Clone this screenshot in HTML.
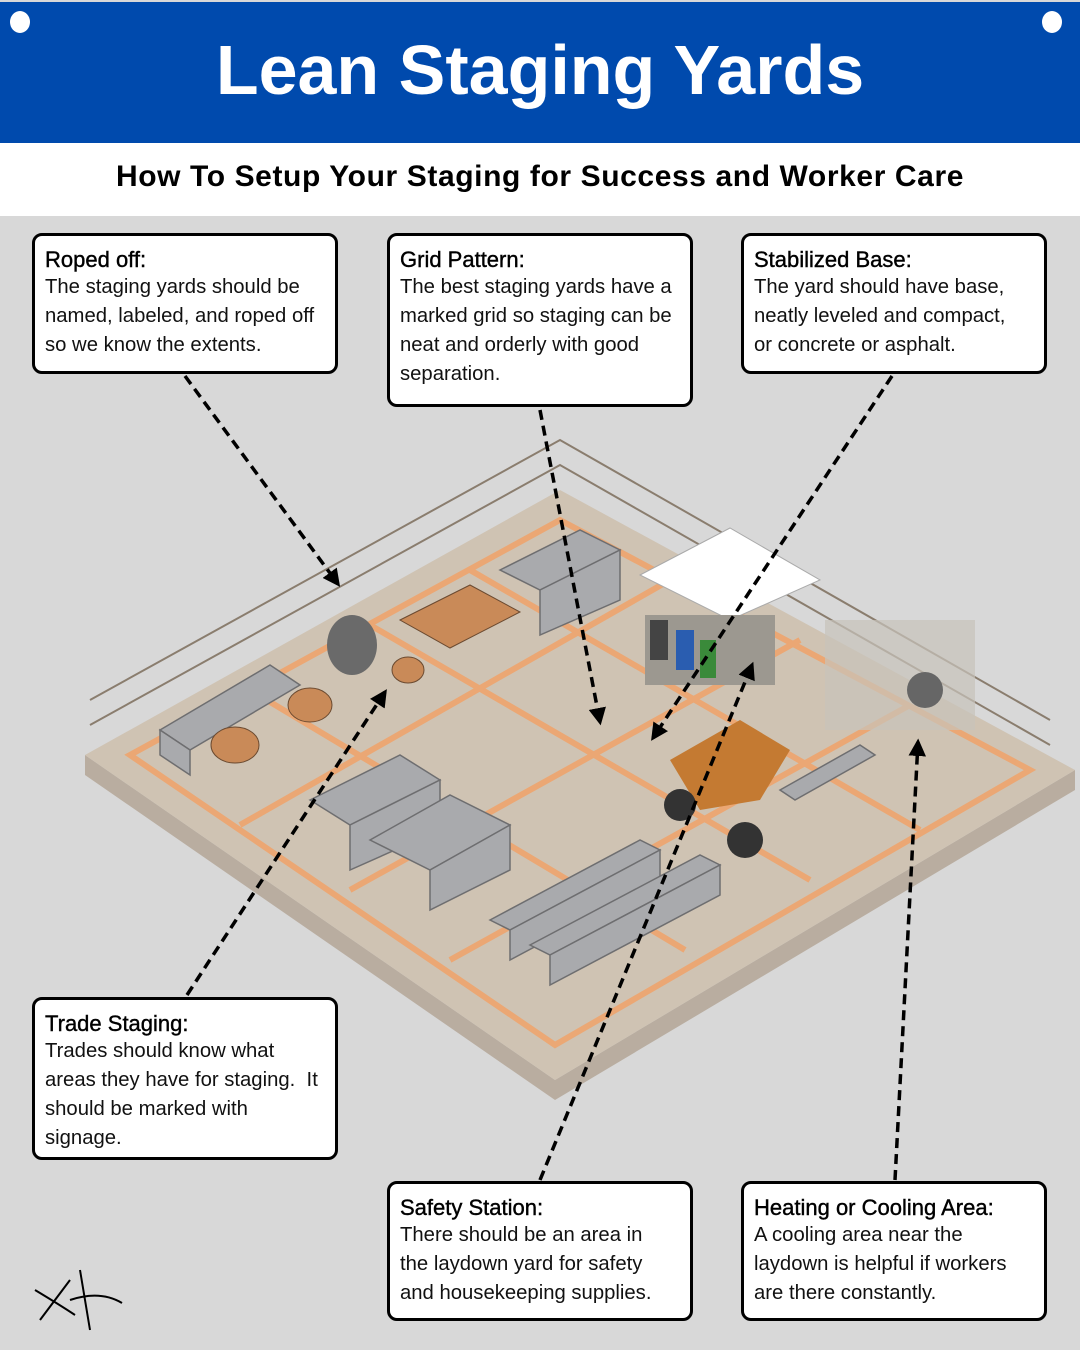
<!DOCTYPE html>
<html><head><meta charset="utf-8"><style>
*{margin:0;padding:0;box-sizing:border-box}
body{width:1080px;height:1350px;position:relative;background:#d8d8d8;font-family:"Liberation Sans",sans-serif;overflow:hidden}
.hdr{position:absolute;left:0;top:2px;width:1080px;height:141px;background:#004aad}
.hdr h1{position:absolute;left:0;width:1080px;top:28px;text-align:center;color:#fff;font-size:70px;font-weight:bold;letter-spacing:0px}
.dot{position:absolute;width:20px;height:22px;border-radius:50%;background:#fff;top:11px}
.sub{position:absolute;left:0;top:143px;width:1080px;height:73px;background:#fff;text-align:center;font-weight:bold;font-size:30px;letter-spacing:0.6px;line-height:68px;color:#000}
.box{position:absolute;background:#fff;border:3px solid #000;border-radius:10px;padding:11px 8px 0 10px;font-size:20.3px;line-height:29px;color:#111;white-space:nowrap;overflow:hidden}
.box b{display:block;font-weight:normal;color:#000;font-size:22px;line-height:26px;-webkit-text-stroke:0.4px #000}
svg{position:absolute;left:0;top:0}
</style></head><body>
<svg width="1080" height="1350">
<defs><marker id="a" viewBox="0 0 10 10" refX="8" refY="5" markerWidth="5" markerHeight="5" orient="auto"><path d="M0,0L10,5L0,10z" fill="#000"/></marker></defs>
<polygon points="85,755 555,1080 1075,770 1075,790 555,1100 85,775" fill="#b9ada0"/>
<polygon points="85,755 560,490 1075,770 555,1080" fill="#cfc3b3"/>
<g stroke="#f0a36a" stroke-width="6" fill="none" opacity="0.85">
<polygon points="130,755 560,520 1030,770 555,1045"/>
<line x1="250" y1="690" x2="685" y2="950"/>
<line x1="370" y1="625" x2="810" y2="880"/>
<line x1="470" y1="570" x2="920" y2="830"/>
<line x1="240" y1="825" x2="670" y2="580"/>
<line x1="350" y1="890" x2="800" y2="640"/>
<line x1="450" y1="960" x2="910" y2="705"/>
</g>
<g stroke="#8a7d6e" stroke-width="2" fill="none">
<polyline points="90,700 560,440 1050,720"/><polyline points="90,725 560,465 1050,745"/>
</g>
<g fill="#a9aaad" stroke="#6e6e70" stroke-width="1.5">
<polygon points="160,730 270,665 300,685 190,750"/><polygon points="160,730 190,750 190,775 160,755"/>
<polygon points="310,800 400,755 440,780 350,825"/><polygon points="350,825 440,780 440,830 350,870"/>
<polygon points="370,840 450,795 510,825 430,870"/><polygon points="430,870 510,825 510,870 430,910"/>
<polygon points="490,920 640,840 660,850 510,930"/><polygon points="510,930 660,850 660,880 510,960"/>
<polygon points="530,945 700,855 720,865 550,955"/><polygon points="550,955 720,865 720,895 550,985"/>
<polygon points="500,570 580,530 620,550 540,590"/><polygon points="540,590 620,550 620,600 540,635"/>
<polygon points="780,790 860,745 875,755 795,800"/>
</g>
<g fill="#c98a58" stroke="#6b4a30">
<ellipse cx="235" cy="745" rx="24" ry="18"/><ellipse cx="310" cy="705" rx="22" ry="17"/><ellipse cx="408" cy="670" rx="16" ry="13"/>
<polygon points="400,620 470,585 520,612 450,648"/>
</g>
<ellipse cx="352" cy="645" rx="25" ry="30" fill="#6a6a6a"/>
<polygon points="640,575 730,528 820,580 730,620" fill="#fff" stroke="#aaa"/>
<rect x="645" y="615" width="130" height="70" fill="#9c9890"/>
<rect x="650" y="620" width="18" height="40" fill="#444"/><rect x="676" y="630" width="18" height="40" fill="#2a5db0"/><rect x="700" y="640" width="16" height="38" fill="#3a8a3a"/>
<polygon points="670,760 740,720 790,750 760,800 700,810" fill="#c47a32"/>
<circle cx="680" cy="805" r="16" fill="#333"/><circle cx="745" cy="840" r="18" fill="#333"/>
<rect x="825" y="620" width="150" height="110" fill="#c8c3bb" opacity="0.7"/>
<circle cx="925" cy="690" r="18" fill="#666"/>
<g stroke="#000" stroke-width="3.5" stroke-dasharray="10,6" fill="none" marker-end="url(#a)">
<line x1="185" y1="376" x2="338" y2="584"/>
<line x1="540" y1="410" x2="600" y2="722"/>
<line x1="892" y1="376" x2="653" y2="738"/>
<line x1="187" y1="995" x2="385" y2="692"/>
<line x1="540" y1="1180" x2="752" y2="665"/>
<line x1="895" y1="1180" x2="918" y2="742"/>
</g>
<path d="M40,1320 L70,1280 M35,1290 Q60,1305 75,1315 M80,1270 L90,1330 M70,1300 Q100,1290 122,1303" stroke="#000" stroke-width="2" fill="none"/>
</svg>
<div class="hdr"><h1>Lean Staging Yards</h1></div>
<div class="dot" style="left:10px"></div><div class="dot" style="left:1042px"></div>
<div class="sub">How To Setup Your Staging for Success and Worker Care</div>
<div class="box" style="left:32px;top:233px;width:306px;height:141px"><b>Roped off:</b>The staging yards should be<br>named, labeled, and roped off<br>so we know the extents.</div>
<div class="box" style="left:387px;top:233px;width:306px;height:174px"><b>Grid Pattern:</b>The best staging yards have a<br>marked grid so staging can be<br>neat and orderly with good<br>separation.</div>
<div class="box" style="left:741px;top:233px;width:306px;height:141px"><b>Stabilized Base:</b>The yard should have base,<br>neatly leveled and compact,<br>or concrete or asphalt.</div>
<div class="box" style="left:32px;top:997px;width:306px;height:163px"><b>Trade Staging:</b>Trades should know what<br>areas they have for staging.&nbsp; It<br>should be marked with<br>signage.</div>
<div class="box" style="left:387px;top:1181px;width:306px;height:140px"><b>Safety Station:</b>There should be an area in<br>the laydown yard for safety<br>and housekeeping supplies.</div>
<div class="box" style="left:741px;top:1181px;width:306px;height:140px"><b>Heating or Cooling Area:</b>A cooling area near the<br>laydown is helpful if workers<br>are there constantly.</div>
</body></html>
